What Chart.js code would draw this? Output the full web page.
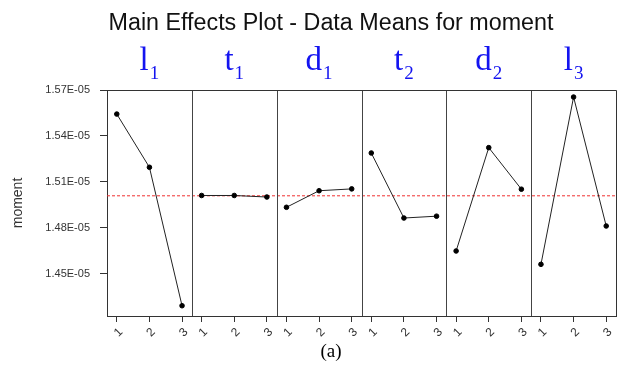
<!DOCTYPE html>
<html lang="en">
<head>
    <meta charset="UTF-8">
    <title>Main Effects Plot - Data Means for moment</title>
    <script src="https://cdn.jsdelivr.net/npm/chart.js"></script>
    <style>
        body {
            margin: 0;
            background-color: #ffffff;
        }
        .chart-container {
            width: 621px;
            height: 367px;
        }
    </style>
</head>
<body>
    <div class="chart-container">
        <canvas id="mainEffectsChart" width="621" height="367"></canvas>
    </div>

    <script>
        const chartTitle = 'Main Effects Plot - Data Means for moment';
        const caption = '(a)';
        // factor levels on each panel's x axis
        const levels = ['1', '2', '3'];
        // panel headers: letter + subscript
        const factorNames = ['l', 't', 'd', 't', 'd', 'l'];
        const factorSubs = ['1', '1', '1', '2', '2', '3'];

        // data means for moment, one array per factor
        const l1Means = [1.5543e-5, 1.5196e-5, 1.4293e-5];
        const t1Means = [1.5012e-5, 1.5012e-5, 1.5002e-5];
        const d1Means = [1.4935e-5, 1.5043e-5, 1.5055e-5];
        const t2Means = [1.5289e-5, 1.4865e-5, 1.4877e-5];
        const d2Means = [1.4650e-5, 1.5324e-5, 1.5053e-5];
        const l3Means = [1.4563e-5, 1.5654e-5, 1.4813e-5];

        const yTicks = [1.45e-5, 1.48e-5, 1.51e-5, 1.54e-5, 1.57e-5];
        const yMin = 1.4226e-5;
        const yMax = 1.57e-5;

        const panels = [l1Means, t1Means, d1Means, t2Means, d2Means, l3Means];
        const SPAN = 2.6;   // width of one panel in x units
        const xMin = 0.7;
        const xMax = panels.length * SPAN + 0.7;

        const allValues = panels.flat();
        const grandMean = allValues.reduce((a, b) => a + b, 0) / allValues.length;

        const datasets = panels.map((vals, k) => ({
            data: vals.map((v, i) => ({ x: k * SPAN + i + 1, y: v })),
            borderColor: '#222',
            borderWidth: 1,
            pointRadius: 2.3,
            pointBackgroundColor: '#000',
            pointBorderColor: '#000',
            tension: 0
        }));
        // overall mean reference line
        datasets.push({
            data: [{ x: xMin, y: grandMean }, { x: xMax, y: grandMean }],
            borderColor: '#f03030',
            borderWidth: 1,
            borderDash: [3, 2],
            pointRadius: 0,
            order: 1
        });

        const panelPlugin = {
            id: 'panelPlugin',
            afterDatasetsDraw(chart) {
                const ctx = chart.ctx;
                const area = chart.chartArea;
                const xs = chart.scales.x;
                ctx.save();
                ctx.strokeStyle = '#444';
                ctx.lineWidth = 1;
                // dividers between panels
                for (let k = 1; k < panels.length; k++) {
                    const px = Math.round(xs.getPixelForValue(k * SPAN + 0.7)) + 0.5;
                    ctx.beginPath();
                    ctx.moveTo(px, area.top);
                    ctx.lineTo(px, area.bottom);
                    ctx.stroke();
                }
                // top and right frame
                ctx.strokeStyle = '#333';
                ctx.beginPath();
                ctx.moveTo(area.left, Math.round(area.top) + 0.5);
                ctx.lineTo(Math.round(area.right) + 0.5, Math.round(area.top) + 0.5);
                ctx.lineTo(Math.round(area.right) + 0.5, area.bottom);
                ctx.stroke();
                ctx.restore();
            },
            afterDraw(chart) {
                const ctx = chart.ctx;
                const xs = chart.scales.x;
                ctx.save();
                // title and caption (centred like the original figure)
                ctx.textAlign = 'center';
                ctx.textBaseline = 'alphabetic';
                ctx.fillStyle = '#111';
                ctx.font = '23.3px "Liberation Sans"';
                ctx.fillText(chartTitle, 331, 30);
                ctx.fillStyle = '#000';
                ctx.font = '19px "Liberation Serif"';
                ctx.textBaseline = 'middle';
                ctx.fillText(caption, 331, 352);

                // panel headers
                ctx.fillStyle = '#1414f0';
                ctx.textBaseline = 'alphabetic';
                ctx.textAlign = 'left';
                const mainFont = '33px "Liberation Serif"';
                const subFont = '19px "Liberation Serif"';
                factorNames.forEach((name, k) => {
                    const cx = xs.getPixelForValue(k * SPAN + 2);
                    ctx.font = mainFont;
                    const w1 = ctx.measureText(name).width;
                    ctx.font = subFont;
                    const w2 = ctx.measureText(factorSubs[k]).width;
                    const start = cx - (w1 + 1 + w2) / 2;
                    ctx.font = mainFont;
                    ctx.fillText(name, start, 70);
                    ctx.font = subFont;
                    ctx.fillText(factorSubs[k], start + w1 + 1, 79);
                });
                ctx.restore();
            }
        };

        const ctx = document.getElementById('mainEffectsChart').getContext('2d');
        const chart = new Chart(ctx, {
            type: 'line',
            data: { datasets: datasets },
            plugins: [panelPlugin],
            options: {
                responsive: false,
                animation: false,
                layout: {
                    padding: { left: 0, right: 3, top: 90, bottom: 29 }
                },
                plugins: {
                    legend: { display: false },
                    tooltip: { enabled: false },
                    title: { display: false }
                },
                scales: {
                    x: {
                        type: 'linear',
                        min: xMin,
                        max: xMax,
                        afterBuildTicks: (scale) => {
                            const ticks = [];
                            panels.forEach((p, k) => {
                                levels.forEach((l, i) => ticks.push({ value: k * SPAN + i + 1 }));
                            });
                            scale.ticks = ticks;
                        },
                        afterFit: (scale) => { scale.height = 22; },
                        ticks: {
                            autoSkip: false,
                            minRotation: 45,
                            maxRotation: 45,
                            labelOffset: 4,
                            padding: 3,
                            color: '#333',
                            font: { family: 'Liberation Sans', size: 12 },
                            callback: (value, index) => levels[index % levels.length]
                        },
                        grid: {
                            drawOnChartArea: false,
                            tickLength: 6,
                            color: '#333'
                        },
                        border: { display: true, color: '#333', width: 1 }
                    },
                    y: {
                        min: yMin,
                        max: yMax,
                        afterBuildTicks: (scale) => {
                            scale.ticks = yTicks.map(v => ({ value: v }));
                        },
                        afterFit: (scale) => { scale.width = 107; },
                        title: {
                            display: true,
                            text: 'moment',
                            color: '#333',
                            font: { family: 'Liberation Sans', size: 14 },
                            padding: { top: 10, bottom: 0 }
                        },
                        ticks: {
                            padding: 10,
                            color: '#333',
                            font: { family: 'Liberation Sans', size: 11 },
                            callback: (value) => (value * 1e5).toFixed(2) + 'E-05'
                        },
                        grid: {
                            drawOnChartArea: false,
                            tickLength: 7,
                            color: '#333'
                        },
                        border: { display: true, color: '#333', width: 1 }
                    }
                }
            }
        });
    </script>
</body>
</html>
